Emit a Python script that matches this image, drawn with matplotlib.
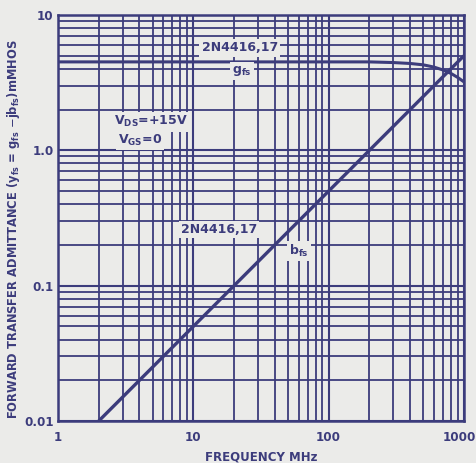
import numpy as np
import matplotlib.pyplot as plt
from matplotlib.ticker import LogLocator, NullFormatter, FixedLocator
from matplotlib.transforms import offset_copy

# data
freq_b = [2, 1000]                      # MHz
b_fs = [0.01, 5.0]                      # mmho
freq_g = [1, 10, 100, 200, 300, 400, 500, 600, 700, 800, 900, 1000]
g_fs = [4.5, 4.5, 4.5, 4.5, 4.45, 4.38, 4.28, 4.12, 3.92, 3.7, 3.45, 3.2]

x_ticks = [1, 10, 100, 1000]
x_ticklabels = ["1", "10", "100", "1000"]
y_ticks = [0.01, 0.1, 1.0, 10]
y_ticklabels = ["0.01", "0.1", "1.0", "10"]

ink = "#3c3c7c"
paper = "#ebebe9"

fig = plt.figure(figsize=(4.76, 4.63), dpi=100, facecolor=paper)
ax = fig.add_axes([0.1218, 0.0907, 0.853, 0.877], facecolor=paper)

ax.set_xscale("log")
ax.set_yscale("log")
ax.set_xlim(1, 1000)
ax.set_ylim(0.01, 10)

ax.xaxis.set_minor_locator(LogLocator(base=10, subs=np.arange(2, 10)))
ax.yaxis.set_minor_locator(LogLocator(base=10, subs=np.arange(2, 10)))
ax.xaxis.set_minor_formatter(NullFormatter())
ax.yaxis.set_minor_formatter(NullFormatter())
ax.grid(which="major", color=ink, lw=1.5)
ax.grid(which="minor", color=ink, lw=1.3)
ax.set_axisbelow(True)

ax.plot(freq_b, b_fs, color=ink, lw=2.4, solid_capstyle="butt")
ax.plot(freq_g, g_fs, color=ink, lw=2.2)

ax.xaxis.set_major_locator(FixedLocator(x_ticks))
ax.yaxis.set_major_locator(FixedLocator(y_ticks))
ax.set_xticklabels(x_ticklabels)
ax.set_yticklabels(y_ticklabels)
ax.tick_params(which="both", length=0, colors=ink, labelsize=8.6)
ax.tick_params(axis="x", pad=7)
ax.tick_params(axis="y", pad=3)
for lab in ax.get_xticklabels() + ax.get_yticklabels():
    lab.set_fontweight("bold")
# last x label sits a bit left of the corner, as on the original sheet
last = ax.get_xticklabels()[-1]
last.set_transform(offset_copy(last.get_transform(), fig=fig, x=-5, y=0, units="dots"))

for s in ax.spines.values():
    s.set_color(ink)
    s.set_linewidth(1.8)

ax.set_xlabel("FREQUENCY MHz", color=ink, fontsize=8.5, fontweight="bold", labelpad=5)
ax.set_ylabel(r"FORWARD TRANSFER ADMITTANCE (y$_{\mathbf{fs}}$ = g$_{\mathbf{fs}}$ $-$jb$_{\mathbf{fs}}$)mMHOS",
              color=ink, fontsize=8.3, fontweight="bold")
ax.yaxis.set_label_coords(-0.088, 0.473)

box = dict(facecolor=paper, edgecolor="none", pad=1.5)
txt = dict(color=ink, fontsize=9, fontweight="bold")
ax.text(22, 5.7, "2N4416,17", ha="center", va="center", bbox=box, **txt)
ax.text(23, 3.85, r"g$_{\mathbf{fs}}$", ha="center", va="center", bbox=box, **txt)
ax.text(4.87, 1.62, r"V$_{\mathbf{DS}}$=+15V", ha="center", va="center", bbox=box, **txt)
ax.text(4.04, 1.19, r"V$_{\mathbf{GS}}$=0", ha="center", va="center", bbox=box, **txt)
ax.text(15.5, 0.26, "2N4416,17", ha="center", va="center", bbox=box, **txt)
ax.text(60, 0.18, r"b$_{\mathbf{fs}}$", ha="center", va="center", bbox=box, **txt)

fig.savefig("out.png", dpi=100, facecolor=paper)
